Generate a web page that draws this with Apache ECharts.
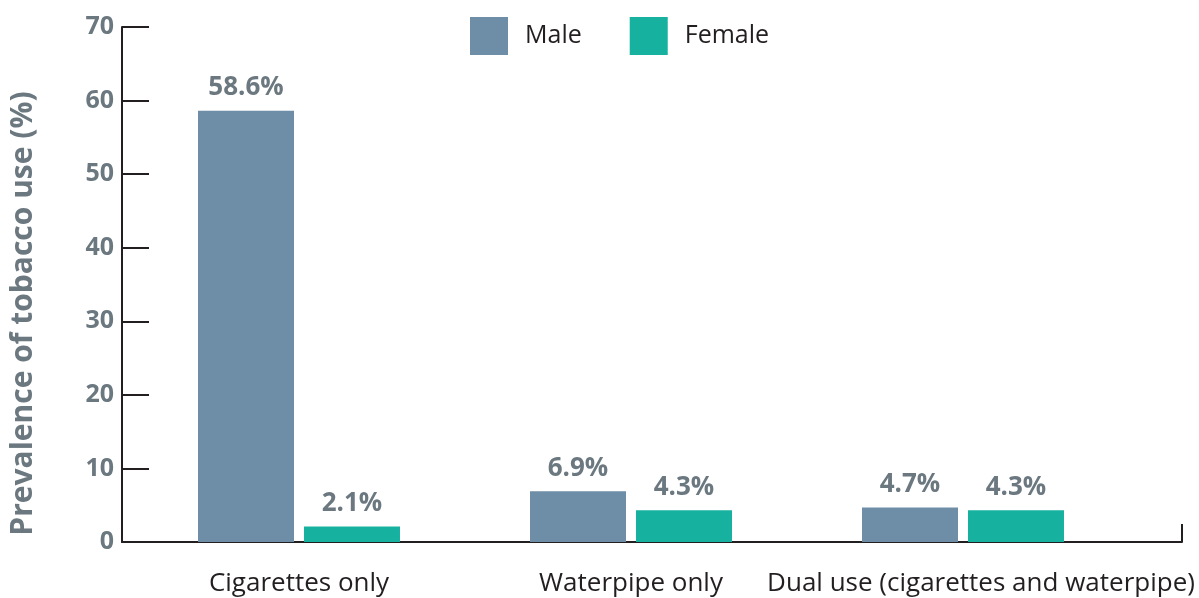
<!DOCTYPE html>
<html>
<head>
<meta charset="utf-8">
<script src="https://cdn.jsdelivr.net/npm/echarts@6/dist/echarts.min.js"></script>
<style>
  html, body { margin: 0; padding: 0; background: #fff; }
  #chart { width: 1199px; height: 598px; }
</style>
</head>
<body>
<div id="chart"></div>
<script>
// data
const categories = ["Cigarettes only", "Waterpipe only", "Dual use (cigarettes and waterpipe)"];
const maleValues = [58.6, 6.9, 4.7];
const femaleValues = [2.1, 4.3, 4.3];
const seriesNames = ["Male", "Female"];

const FONT = "Open Sans";
const GRAY = "#6b7880";
const DARK = "#231f20";

const chart = echarts.init(document.getElementById("chart"));

const barLabel = {
  show: true,
  position: "top",
  distance: 10,
  formatter: p => p.value.toFixed(1) + "%",
  color: GRAY,
  fontFamily: FONT,
  fontWeight: "bold",
  fontSize: 26
};

const option = {
  animation: false,
  textStyle: { fontFamily: FONT },
  legend: {
    data: seriesNames,
    left: 470,
    top: 17,
    padding: 0,
    itemWidth: 38,
    itemHeight: 38,
    itemGap: 48,
    icon: "rect",
    textStyle: {
      fontFamily: FONT,
      fontSize: 25,
      color: DARK,
      padding: [3, 0, 0, 12]
    }
  },
  grid: [
    // axis frame
    { left: 121, right: 17, top: 27, bottom: 56, containLabel: false },
    // bars
    { left: 133, width: 996, top: 27, bottom: 56, containLabel: false }
  ],
  xAxis: [
    {
      gridIndex: 0,
      type: "value",
      min: 0,
      max: 1,
      interval: 1,
      axisLine: { show: true, lineStyle: { color: DARK, width: 2 } },
      axisTick: { show: true, inside: true, length: 18, lineStyle: { color: DARK, width: 2 } },
      axisLabel: { show: false },
      splitLine: { show: false }
    },
    {
      gridIndex: 1,
      type: "category",
      data: categories,
      axisLine: { show: false },
      axisTick: { show: false },
      axisLabel: {
        margin: 29,
        color: DARK,
        fontFamily: FONT,
        fontSize: 26,
        interval: 0,
        formatter: (v, i) => i === 2 ? "{shift|" + v + "}" : v,
        rich: {
          shift: {
            color: DARK,
            fontFamily: FONT,
            fontSize: 26,
            padding: [0, 0, 0, 36]
          }
        }
      }
    }
  ],
  yAxis: [
    {
      gridIndex: 0,
      type: "value",
      min: 0,
      max: 70,
      interval: 10,
      name: "Prevalence of tobacco use (%)",
      nameLocation: "middle",
      nameGap: 84,
      nameTextStyle: {
        color: GRAY,
        fontFamily: FONT,
        fontWeight: "bold",
        fontSize: 30,
        padding: [0, 58, 0, 0]
      },
      axisLine: { show: true, lineStyle: { color: DARK, width: 2 } },
      axisTick: { show: true, inside: true, length: 27, lineStyle: { color: DARK, width: 2 } },
      axisLabel: {
        margin: 8,
        color: GRAY,
        fontFamily: FONT,
        fontWeight: "bold",
        fontSize: 25
      },
      splitLine: { show: false }
    },
    {
      gridIndex: 1,
      type: "value",
      min: 0,
      max: 70,
      interval: 10,
      show: false
    }
  ],
  series: [
    {
      name: seriesNames[0],
      type: "bar",
      xAxisIndex: 1,
      yAxisIndex: 1,
      data: maleValues,
      barWidth: 96,
      barGap: "10.4%",
      itemStyle: { color: "#6e8da6" },
      label: barLabel
    },
    {
      name: seriesNames[1],
      type: "bar",
      xAxisIndex: 1,
      yAxisIndex: 1,
      data: femaleValues,
      barWidth: 96,
      barGap: "10.4%",
      itemStyle: { color: "#17b1a0" },
      label: barLabel
    }
  ]
};

chart.setOption(option);
</script>
</body>
</html>
